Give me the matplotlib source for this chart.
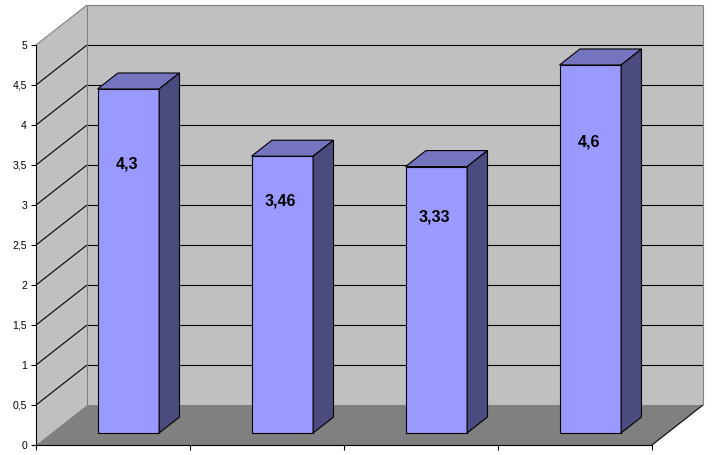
import matplotlib
matplotlib.use('Agg')
import matplotlib.pyplot as plt
from matplotlib.patches import Polygon
import numpy as np

plt.rcParams['font.family'] = ['Liberation Sans', 'DejaVu Sans']

# data
categories = ['1', '2', '3', '4']
values = [4.3, 3.46, 3.33, 4.6]
value_labels = ['4,3', '3,46', '3,33', '4,6']
label_heights = [3.36, 2.9, 2.7, 3.64]   # where excel put the labels on the bar face
y_ticks = np.arange(0, 5.01, 0.5)

# oblique depth projection (category units / value units per unit of depth)
DX = 51 / 154
DY = 0.5
YMAX = 5

def proj(x, y, z):
    return (x + z * DX, y + z * DY)

def face(ax, pts, fc, ec='none', lw=0.8, z=1):
    ax.add_patch(Polygon([proj(*p) for p in pts], closed=True, facecolor=fc,
                         edgecolor=ec, linewidth=lw, zorder=z))

def line(ax, p0, p1, color='black', lw=0.8, z=1):
    a, b = proj(*p0), proj(*p1)
    ax.plot([a[0], b[0]], [a[1], b[1]], color=color, linewidth=lw, zorder=z,
            solid_capstyle='butt')

fig = plt.figure(figsize=(7.13, 4.55), dpi=100)
ax = fig.add_axes([0, 0, 1, 1])
ax.set_xlim(-36 / 154, (713 - 36) / 154)
ax.set_ylim(-10 / 80, 445 / 80)

n = len(categories)

# walls and floor
face(ax, [(0, 0, 0), (0, YMAX, 0), (0, YMAX, 1), (0, 0, 1)], '#C0C0C0', z=0)
face(ax, [(0, 0, 1), (n, 0, 1), (n, YMAX, 1), (0, YMAX, 1)], '#C0C0C0', z=0)
face(ax, [(0, 0, 0), (n, 0, 0), (n, 0, 1), (0, 0, 1)], '#808080', z=0)

# gridlines on back and side wall
for v in y_ticks[1:-1]:
    line(ax, (0, v, 0), (0, v, 1))
    line(ax, (0, v, 1), (n, v, 1))

# wall borders
line(ax, (0, YMAX, 0), (0, YMAX, 1), color='#808080')
line(ax, (0, YMAX, 1), (n, YMAX, 1), color='#808080')
line(ax, (n, YMAX, 1), (n, 0, 1), color='#808080')
line(ax, (0, 0, 1), (0, YMAX, 1), color='#808080')
line(ax, (n, 0, 0), (n, 0, 1), color='black')

# bars
z0, z1 = 0.3, 0.7
for i, v in enumerate(values):
    x0, x1 = i + 0.3, i + 0.7
    face(ax, [(x0, 0, z0), (x1, 0, z0), (x1, v, z0), (x0, v, z0)], '#9999FF', 'black', z=3)
    face(ax, [(x0, v, z0), (x1, v, z0), (x1, v, z1), (x0, v, z1)], '#7575BF', 'black', z=3)
    face(ax, [(x1, 0, z0), (x1, 0, z1), (x1, v, z1), (x1, v, z0)], '#4B4B7D', 'black', z=3)
    tx, ty = proj(i + 0.5, label_heights[i], z0)
    ax.text(tx - 0.01, ty, value_labels[i], ha='center', va='center',
            fontsize=11.5, fontweight='bold', zorder=4)

# axes
for s in ['top', 'right']:
    ax.spines[s].set_visible(False)
ax.spines['left'].set_position(('data', 0))
ax.spines['bottom'].set_position(('data', 0))
ax.spines['left'].set_bounds(0, YMAX)
ax.spines['bottom'].set_bounds(0, n)
for s in ['left', 'bottom']:
    ax.spines[s].set_linewidth(0.8)
    ax.spines[s].set_zorder(5)

ax.set_yticks(y_ticks)
ax.set_yticklabels([('%g' % t).replace('.', ',') for t in y_ticks])
ax.set_xticks(range(n + 1))
ax.set_xticklabels([''] * (n + 1))
ax.tick_params(direction='out', length=3.6, width=0.8, pad=2.9, labelsize=7.5)

fig.savefig('out.png', dpi=100)
